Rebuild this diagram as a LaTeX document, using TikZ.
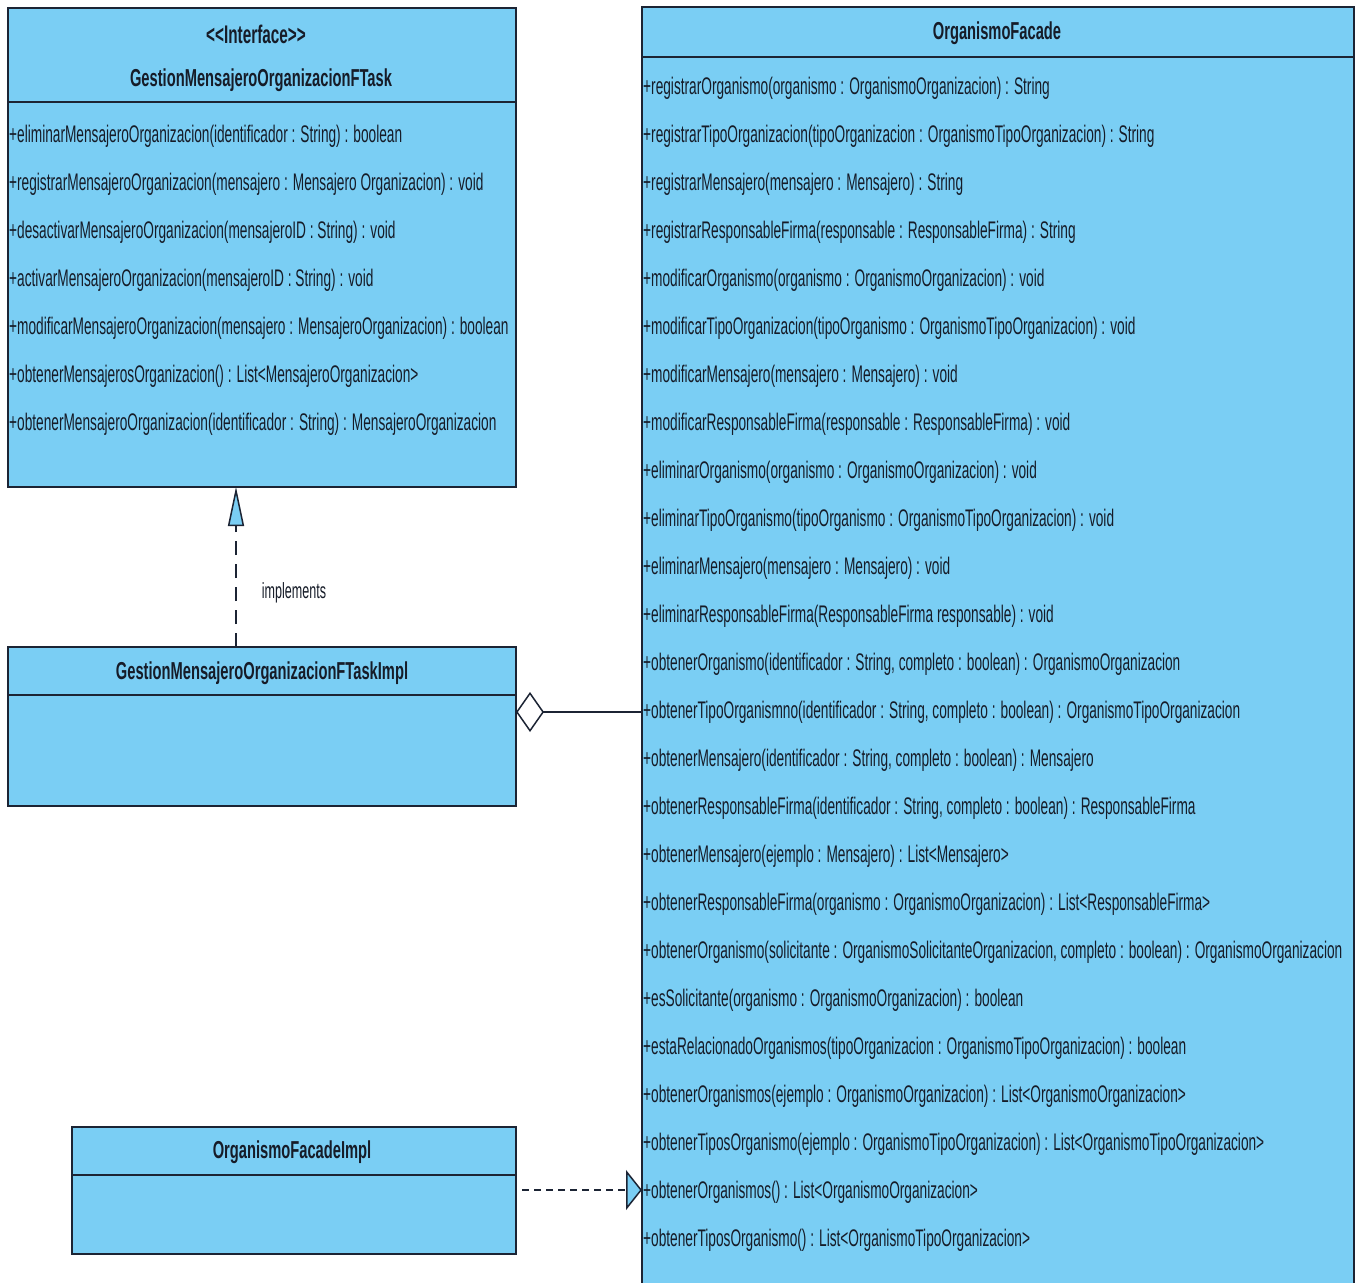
\documentclass[tikz,border=0pt]{standalone}
\usepackage{fontspec}
\newfontfamily\nf[FakeStretch=0.57]{Liberation Sans}
\newfontfamily\hf[FakeStretch=0.6]{Liberation Sans}
\usetikzlibrary{arrows.meta}
\definecolor{boxblue}{RGB}{122,206,244}
\definecolor{edge}{RGB}{28,36,52}
\definecolor{txt}{RGB}{22,28,40}
\tikzset{
  umlbox/.style={draw=edge, fill=boxblue, line width=2pt, inner sep=0pt, outer sep=0pt, anchor=north west},
  row/.style={anchor=west, inner sep=0pt, font=\nf\fontsize{24}{24}\selectfont, text=txt},
  head/.style={anchor=center, inner sep=0pt, font=\hf\bfseries\fontsize{24.5}{24.5}\selectfont, text=txt},
  sep/.style={draw=edge, line width=2pt},
  link/.style={draw=edge, line width=2pt}
}
\begin{document}
\begin{tikzpicture}[x=1pt,y=-1pt]
\useasboundingbox (0,0) rectangle (1359,1282);
\clip (0,0) rectangle (1359,1282);
\fill[white] (0,0) rectangle (1359,1282);
% boxes
\node[umlbox, minimum width=508pt, minimum height=479pt] (iface) at (8,8) {};
\node[umlbox, minimum width=508pt, minimum height=159pt] (impl) at (8,647) {};
\node[umlbox, minimum width=444pt, minimum height=127pt] (fimpl) at (72,1127) {};
\node[umlbox, minimum width=712pt, minimum height=1320pt] (facade) at (642,7) {};
% compartments
\draw[sep] (8,102) -- (516,102);
\draw[sep] (8,695) -- (516,695);
\draw[sep] (72,1175) -- (516,1175);
\draw[sep] (642,57) -- (1354,57);
% headers
\node[head, font=\hf\bfseries\fontsize{25.5}{25.5}\selectfont] (ster) at (256,34) {<\kern0pt<Interface>\kern0pt>};
\node[head] (ifname) at (261,80) {GestionMensajeroOrganizacionFTask};
\node[head] (implname) at (262,673) {GestionMensajeroOrganizacionFTaskImpl};
\node[head] (fimplname) at (292,1152) {OrganismoFacadeImpl};
\node[head] (facname) at (997,33) {OrganismoFacade};
% interface operations
\foreach \t [count=\i from 0] in {
  {+eliminarMensajeroOrganizacion(identificador : String) : boolean},
  {+registrarMensajeroOrganizacion(mensajero : Mensajero Organizacion) : void},
  {+desactivarMensajeroOrganizacion(mensajeroID : String) : void},
  {+activarMensajeroOrganizacion(mensajeroID : String) : void},
  {+modificarMensajeroOrganizacion(mensajero : MensajeroOrganizacion) : boolean},
  {+obtenerMensajerosOrganizacion() : List<MensajeroOrganizacion>},
  {+obtenerMensajeroOrganizacion(identificador : String) : MensajeroOrganizacion}}
  \node[row] (g\i) at (9,{136+48*\i}) {\t};
% facade operations
\foreach \t [count=\i from 0] in {
  {+registrarOrganismo(organismo : OrganismoOrganizacion) : String},
  {+registrarTipoOrganizacion(tipoOrganizacion : OrganismoTipoOrganizacion) : String},
  {+registrarMensajero(mensajero : Mensajero) : String},
  {+registrarResponsableFirma(responsable : ResponsableFirma) : String},
  {+modificarOrganismo(organismo : OrganismoOrganizacion) : void},
  {+modificarTipoOrganizacion(tipoOrganismo : OrganismoTipoOrganizacion) : void},
  {+modificarMensajero(mensajero : Mensajero) : void},
  {+modificarResponsableFirma(responsable : ResponsableFirma) : void},
  {+eliminarOrganismo(organismo : OrganismoOrganizacion) : void},
  {+eliminarTipoOrganismo(tipoOrganismo : OrganismoTipoOrganizacion) : void},
  {+eliminarMensajero(mensajero : Mensajero) : void},
  {+eliminarResponsableFirma(ResponsableFirma responsable) : void},
  {+obtenerOrganismo(identificador : String, completo : boolean) : OrganismoOrganizacion},
  {+obtenerTipoOrganismno(identificador : String, completo : boolean) : OrganismoTipoOrganizacion},
  {+obtenerMensajero(identificador : String, completo : boolean) : Mensajero},
  {+obtenerResponsableFirma(identificador : String, completo : boolean) : ResponsableFirma},
  {+obtenerMensajero(ejemplo : Mensajero) : List<Mensajero>},
  {+obtenerResponsableFirma(organismo : OrganismoOrganizacion) : List<ResponsableFirma>},
  {+obtenerOrganismo(solicitante : OrganismoSolicitanteOrganizacion, completo : boolean) : OrganismoOrganizacion},
  {+esSolicitante(organismo : OrganismoOrganizacion) : boolean},
  {+estaRelacionadoOrganismos(tipoOrganizacion : OrganismoTipoOrganizacion) : boolean},
  {+obtenerOrganismos(ejemplo : OrganismoOrganizacion) : List<OrganismoOrganizacion>},
  {+obtenerTiposOrganismo(ejemplo : OrganismoTipoOrganizacion) : List<OrganismoTipoOrganizacion>},
  {+obtenerOrganismos() : List<OrganismoOrganizacion>},
  {+obtenerTiposOrganismo() : List<OrganismoTipoOrganizacion>}}
  \node[row] (f\i) at (643,{88+48*\i}) {\t};
% connectors
\coordinate (ia) at (236,0);
\draw[link, line width=1.5pt, dash pattern=on 14pt off 9pt,
  -{Triangle[length=39pt,width=16pt,fill=boxblue,line width=1.5pt]}]
  (impl.north -| ia) -- (iface.south -| ia);
\node[row, anchor=center, font=\nf\fontsize{22}{22}\selectfont] (impllbl) at (294,593) {implements};
\coordinate (ag) at (0,712);
\draw[link, {Diamond[length=28pt,width=40pt,fill=white,line width=1.5pt]}-]
  (ag -| impl.east) -- (ag -| facade.west);
\coordinate (dp) at (0,1190);
\draw[link, dash pattern=on 7pt off 5pt, shorten <=6pt,
  -{Triangle[length=16pt,width=40pt,fill=boxblue,line width=1.5pt]}]
  (dp -| fimpl.east) -- (dp -| facade.west);
\end{tikzpicture}
\end{document}
